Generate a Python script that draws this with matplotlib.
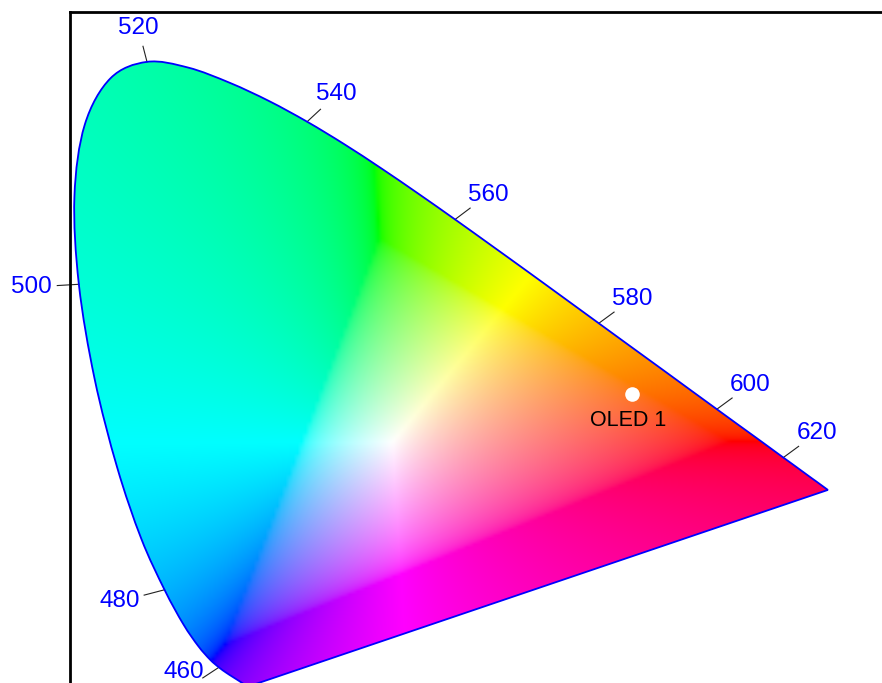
import numpy as np
import matplotlib
matplotlib.use("Agg")
import matplotlib.pyplot as plt
from matplotlib.path import Path
from matplotlib.patches import PathPatch

# CIE 1931 2-degree spectral locus chromaticities, 380-700 nm in 5 nm steps
wavelengths = list(range(380, 701, 5))
locus_x = [0.1741, 0.1740, 0.1738, 0.1736, 0.1733, 0.1730, 0.1726, 0.1721,
           0.1714, 0.1703, 0.1689, 0.1669, 0.1644, 0.1611, 0.1566, 0.1510,
           0.1440, 0.1355, 0.1241, 0.1096, 0.0913, 0.0687, 0.0454, 0.0235,
           0.0082, 0.0039, 0.0139, 0.0389, 0.0743, 0.1142, 0.1547, 0.1929,
           0.2296, 0.2658, 0.3016, 0.3373, 0.3731, 0.4087, 0.4441, 0.4788,
           0.5125, 0.5448, 0.5752, 0.6029, 0.6270, 0.6482, 0.6658, 0.6801,
           0.6915, 0.7006, 0.7079, 0.7140, 0.7190, 0.7230, 0.7260, 0.7283,
           0.7300, 0.7311, 0.7320, 0.7327, 0.7334, 0.7340, 0.7344, 0.7346,
           0.7347]
locus_y = [0.0050, 0.0050, 0.0049, 0.0049, 0.0048, 0.0048, 0.0048, 0.0048,
           0.0051, 0.0058, 0.0069, 0.0086, 0.0109, 0.0138, 0.0177, 0.0227,
           0.0297, 0.0399, 0.0578, 0.0868, 0.1327, 0.2007, 0.2950, 0.4127,
           0.5384, 0.6548, 0.7502, 0.8120, 0.8338, 0.8262, 0.8059, 0.7816,
           0.7543, 0.7243, 0.6923, 0.6589, 0.6245, 0.5896, 0.5547, 0.5202,
           0.4866, 0.4544, 0.4242, 0.3965, 0.3725, 0.3514, 0.3340, 0.3197,
           0.3083, 0.2993, 0.2920, 0.2859, 0.2809, 0.2770, 0.2740, 0.2717,
           0.2700, 0.2689, 0.2680, 0.2673, 0.2666, 0.2660, 0.2656, 0.2654,
           0.2653]

# wavelengths annotated along the locus
label_wavelengths = [460, 480, 500, 520, 540, 560, 580, 600, 620]

# measured device chromaticity
device_names = ["OLED 1"]
device_x = [0.545]
device_y = [0.393]

LOCUS_BLUE = "#0000ff"
FONT = ["Liberation Sans", "DejaVu Sans"]


def locus_path(px, py):
    """Smooth closed path through the locus points, closed by the purple line."""
    pts = np.column_stack([px, py])
    n = len(pts)
    verts = [pts[0]]
    codes = [Path.MOVETO]
    for i in range(n - 1):
        p0 = pts[max(i - 1, 0)]
        p1 = pts[i]
        p2 = pts[i + 1]
        p3 = pts[min(i + 2, n - 1)]
        c1 = p1 + (p2 - p0) / 6.0
        c2 = p2 - (p3 - p1) / 6.0
        verts += [c1, c2, p2]
        codes += [Path.CURVE4] * 3
    verts += [pts[0], pts[0]]
    codes += [Path.LINETO, Path.CLOSEPOLY]
    return Path(np.array(verts), codes)


def chromaticity_colours(x, y):
    """sRGB display colours for xy chromaticities (Y = 1, white-desaturated)."""
    y = np.maximum(y, 1e-4)
    X = x / y
    Z = (1.0 - x - y) / y
    M = np.array([[3.2406, -1.5372, -0.4986],
                  [-0.9689, 1.8758, 0.0415],
                  [0.0557, -0.2040, 1.0570]])
    XYZ = np.stack([X, np.ones_like(X), Z], axis=-1)
    rgb = XYZ @ M.T
    mn = rgb.min(axis=-1, keepdims=True)
    rgb = rgb - np.minimum(mn, 0.0)
    rgb = rgb / np.maximum(rgb.max(axis=-1, keepdims=True), 1e-9)
    rgb = np.clip(rgb, 0.0, 1.0)
    enc = np.where(rgb <= 0.0031308, 12.92 * rgb,
                   1.055 * np.power(rgb, 1 / 2.4) - 0.055)
    return np.clip(enc, 0.0, 1.0)


fig = plt.figure(figsize=(8.82, 6.83), dpi=100)
x_scale, y_scale = 1031.0, 753.0   # pixels per chromaticity unit
left_px, top_px = 70.4, 12.0
ax = fig.add_axes([left_px / 882.0,
                   (683.0 - (top_px + 0.9 * y_scale)) / 683.0,
                   0.8 * x_scale / 882.0,
                   0.9 * y_scale / 683.0])
ax.set_xlim(0.0, 0.8)
ax.set_ylim(0.0, 0.9)
ax.set_xticks([])
ax.set_yticks([])
for side in ("right", "bottom"):
    ax.spines[side].set_visible(False)
for side in ("left", "top"):
    ax.spines[side].set_linewidth(2.0)
    ax.spines[side].set_color("black")

# coloured chromaticity field clipped to the locus
samples = 256
gx = (np.arange(samples) + 0.5) / samples
gy = (np.arange(samples) + 0.5) / samples
GX, GY = np.meshgrid(gx, gy)
img = chromaticity_colours(GX, GY)
path = locus_path(locus_x, locus_y)
clip = PathPatch(path, transform=ax.transData, facecolor="none", edgecolor="none")
ax.add_patch(clip)
im = ax.imshow(img, origin="lower", extent=(0, 1, 0, 1), interpolation="bilinear",
               aspect="auto", zorder=1)
im.set_clip_path(clip)
ax.set_xlim(0.0, 0.8)
ax.set_ylim(0.0, 0.9)

# locus outline
ax.add_patch(PathPatch(path, facecolor="none", edgecolor=LOCUS_BLUE,
                       linewidth=1.3, zorder=3))

# wavelength ticks and labels
tick_len = 0.021
label_dist = 0.046
for wl in label_wavelengths:
    i = wavelengths.index(wl)
    tx = locus_x[i + 1] - locus_x[i - 1]
    ty = locus_y[i + 1] - locus_y[i - 1]
    nrm = np.hypot(tx, ty)
    nx, ny = -ty / nrm, tx / nrm
    x0, y0 = locus_x[i], locus_y[i]
    ax.plot([x0, x0 + nx * tick_len], [y0, y0 + ny * tick_len],
            color="#222222", linewidth=0.8, zorder=2, clip_on=False)
    lx = x0 + nx * label_dist
    ly = max(y0 + ny * label_dist, 0.024)
    ax.text(lx, ly, str(wl), color=LOCUS_BLUE, fontsize=17.5, family=FONT,
            ha="center", va="center", clip_on=False, zorder=4)

# device points
for name, dx, dy in zip(device_names, device_x, device_y):
    ax.plot(dx, dy, "o", color="white", markersize=10.5,
            markeredgewidth=0, zorder=5)
    ax.annotate(name, (dx, dy), xytext=(-3, -19.5), textcoords="offset points",
                ha="center", va="center", fontsize=15.5, family=FONT,
                color="black", zorder=5)

fig.savefig("out.png", dpi=100)
